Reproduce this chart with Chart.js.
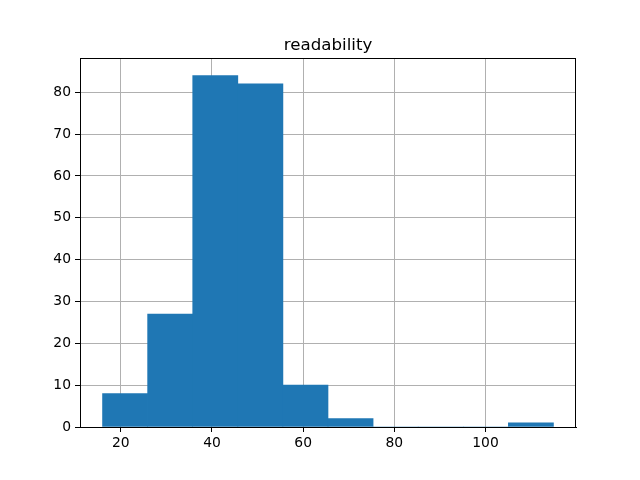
<!DOCTYPE html>
<html>
<head>
<meta charset="utf-8">
<script src="https://cdn.jsdelivr.net/npm/chart.js@4/dist/chart.umd.min.js"></script>
<style>
html,body{margin:0;padding:0;background:#fff;}
canvas{display:block;}
</style>
</head>
<body>
<canvas id="c" width="640" height="480"></canvas>
<script>
const binEdges = [16.0, 25.89, 35.78, 45.67, 55.56, 65.45, 75.34, 85.23, 95.12, 105.01, 114.9];
const counts = [8, 27, 84, 82, 10, 2, 0, 0, 0, 1];
const xTicks = [20, 40, 60, 80, 100];
const yTicks = [0, 10, 20, 30, 40, 50, 60, 70, 80];
const title = 'readability';

const points = counts.map((c, i) => ({ x: (binEdges[i] + binEdges[i + 1]) / 2, y: c }));
const span = binEdges[binEdges.length - 1] - binEdges[0];
const xMin = binEdges[0] - 0.05 * span;
const xMax = binEdges[binEdges.length - 1] + 0.05 * span;
const yMax = Math.max(...counts) * 1.05;

const font = { family: 'DejaVu Sans', size: 13.89 };

const framePlugin = {
  id: 'frame',
  afterDraw(chart) {
    const a = chart.chartArea, ctx = chart.ctx;
    ctx.save();
    ctx.strokeStyle = '#000';
    ctx.lineWidth = 1;
    ctx.strokeRect(Math.round(a.left) + 0.5, Math.round(a.top) + 0.5, Math.round(a.right - a.left) - 1, Math.round(a.bottom - a.top));
    ctx.fillStyle = '#000';
    ctx.font = '16.67px "DejaVu Sans"';
    ctx.textAlign = 'center';
    ctx.textBaseline = 'alphabetic';
    ctx.fillText(title, (a.left + a.right) / 2, a.top - 8);
    ctx.restore();
  }
};

new Chart(document.getElementById('c'), {
  type: 'bar',
  data: {
    datasets: [{
      label: title,
      data: points,
      backgroundColor: '#1f77b4',
      borderWidth: 0,
      barPercentage: 1.0,
      categoryPercentage: 1.0
    }]
  },
  options: {
    responsive: false,
    devicePixelRatio: 1,
    animation: false,
    layout: { padding: { left: 0, right: 64, top: 58, bottom: 0 } },
    plugins: {
      legend: { display: false },
      tooltip: { enabled: false },
      title: { display: false }
    },
    scales: {
      x: {
        type: 'linear',
        offset: false,
        min: xMin,
        max: xMax,
        z: 1,
        afterBuildTicks(scale) { scale.ticks = xTicks.map(v => ({ value: v })); },
        afterFit(scale) { scale.height = 53; },
        grid: { offset: false, color: '#b0b0b0', lineWidth: 1, tickLength: 5, tickColor: '#000', drawTicks: true },
        border: { display: true, color: '#000', width: 1 },
        ticks: { color: '#000', font: font, padding: 3, maxRotation: 0, autoSkip: false }
      },
      y: {
        type: 'linear',
        min: 0,
        max: yMax,
        z: 1,
        afterBuildTicks(scale) { scale.ticks = yTicks.map(v => ({ value: v })); },
        afterFit(scale) { scale.width = 80; },
        grid: { color: '#b0b0b0', lineWidth: 1, tickLength: 5, tickColor: '#000' },
        border: { display: true, color: '#000', width: 1 },
        ticks: { color: '#000', font: font, padding: 4, autoSkip: false }
      }
    }
  },
  plugins: [framePlugin]
});
</script>
</body>
</html>
